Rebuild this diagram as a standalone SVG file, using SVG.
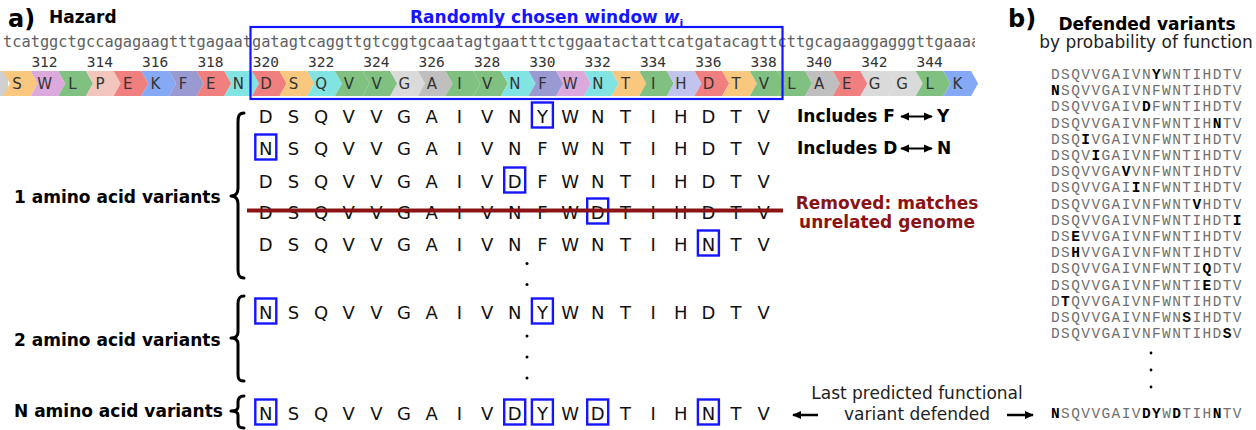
<svg xmlns="http://www.w3.org/2000/svg" xmlns:xlink="http://www.w3.org/1999/xlink" width="1256" height="430" viewBox="0 0 1256 430">
<style>
.b{font-family:"DejaVu Sans",Verdana,sans-serif;font-weight:bold;font-size:17px;fill:#000}
.r{font-family:"DejaVu Sans",Verdana,sans-serif;font-size:17px;fill:#222}
.dna{font-family:"DejaVu Sans Mono",monospace;font-size:15.3px;fill:#606060}
.num{font-family:"DejaVu Sans Mono",monospace;font-size:14.5px;fill:#333;text-anchor:middle}
.aa{font-family:"DejaVu Sans",sans-serif;font-size:15px;fill:#333;text-anchor:middle}
.row{font-family:"DejaVu Sans",sans-serif;font-size:18px;fill:#111;text-anchor:middle}
.box{fill:none;stroke:#1414ff;stroke-width:2.4}
.brace{fill:none;stroke:#000;stroke-width:3;stroke-linecap:round;stroke-linejoin:round}
.mono{font-family:"Liberation Mono","Courier New",monospace;font-size:14.5px;letter-spacing:1.4px;fill:#707070}
.mono tspan.k{font-weight:bold;fill:#000}
.dot{fill:#000}
.o{fill:#FAC77E}.w{fill:#DBA9DB}.g{fill:#80C080}.p{fill:#F2C5BD}.e{fill:#F07F7F}.kb{fill:#86A9F5}.f{fill:#9A9AD2}.c{fill:#82E3E3}.lg{fill:#DADADA}.a{fill:#BFBFBF}.h{fill:#C3C3F0}
</style>
<defs>
<path id="chev" d="M0,71 H27.66 L34.66,83.5 L27.66,96 H0 L7,83.5 Z"/>
<clipPath id="dclip"><rect x="0" y="30" width="975" height="24"/></clipPath>
<marker id="ah" viewBox="0 0 10 10" refX="9" refY="5" markerWidth="9" markerHeight="9" markerUnits="userSpaceOnUse" orient="auto-start-reverse"><path d="M0,0.5 L10,5 L0,9.5 Z" fill="#000"/></marker>
</defs>

<g id="titles">
<text x="8" y="27" class="b" style="font-size:24px">a)</text>
<text x="49" y="23" class="b">Hazard</text>
<text x="410" y="23" class="b" style="fill:#1414ff">Randomly chosen window <tspan font-style="italic">w</tspan><tspan font-size="11" dy="4">i</tspan></text>
<text x="1008" y="27" class="b" style="font-size:24px">b)</text>
<text x="1147" y="30" class="b" text-anchor="middle">Defended variants</text>
<text x="1146" y="48" class="r" text-anchor="middle">by probability of function</text>
</g>

<g id="hazard-sequence">
<text class="dna" x="3" y="47" textLength="977.3" lengthAdjust="spacing" clip-path="url(#dclip)">tcatggctgccagagaagtttgagaatgatagtcaggttgtcggtgcaatagtgaatttctggaatactattcatgatacagttcttgcagaaggagggttgaaaa</text>
<g id="numbers">
<text class="num" x="44.5" y="67">312</text><text class="num" x="99.8" y="67">314</text><text class="num" x="155.1" y="67">316</text><text class="num" x="210.5" y="67">318</text><text class="num" x="265.8" y="67">320</text><text class="num" x="321.1" y="67">322</text><text class="num" x="376.4" y="67">324</text><text class="num" x="431.7" y="67">326</text><text class="num" x="487.1" y="67">328</text><text class="num" x="542.4" y="67">330</text><text class="num" x="597.7" y="67">332</text><text class="num" x="653" y="67">334</text><text class="num" x="708.4" y="67">336</text><text class="num" x="763.7" y="67">338</text><text class="num" x="819" y="67">340</text><text class="num" x="874.3" y="67">342</text><text class="num" x="929.6" y="67">344</text>
</g>
<g id="aa-bar">
<rect x="0" y="71" width="8" height="25" fill="#D0D0D0"/>
<use href="#chev" x="3" class="o"/><use href="#chev" x="30.66" class="w"/><use href="#chev" x="58.32" class="g"/><use href="#chev" x="85.98" class="p"/><use href="#chev" x="113.64" class="e"/><use href="#chev" x="141.3" class="kb"/><use href="#chev" x="168.96" class="f"/><use href="#chev" x="196.62" class="e"/><use href="#chev" x="224.28" class="c"/><use href="#chev" x="251.94" class="e"/><use href="#chev" x="279.6" class="o"/><use href="#chev" x="307.26" class="c"/><use href="#chev" x="334.92" class="g"/><use href="#chev" x="362.58" class="g"/><use href="#chev" x="390.24" class="lg"/><use href="#chev" x="417.9" class="a"/><use href="#chev" x="445.56" class="g"/><use href="#chev" x="473.22" class="g"/><use href="#chev" x="500.88" class="c"/><use href="#chev" x="528.54" class="f"/><use href="#chev" x="556.2" class="w"/><use href="#chev" x="583.86" class="c"/><use href="#chev" x="611.52" class="o"/><use href="#chev" x="639.18" class="g"/><use href="#chev" x="666.84" class="h"/><use href="#chev" x="694.5" class="e"/><use href="#chev" x="722.16" class="o"/><use href="#chev" x="749.82" class="g"/><use href="#chev" x="777.48" class="g"/><use href="#chev" x="805.14" class="a"/><use href="#chev" x="832.8" class="e"/><use href="#chev" x="860.46" class="lg"/><use href="#chev" x="888.12" class="lg"/><use href="#chev" x="915.78" class="g"/><use href="#chev" x="943.44" class="kb"/>
<text class="aa" y="89" x="17 44.66 72.32 99.98 127.64 155.3 182.96 210.62 238.28 265.94 293.6 321.26 348.92 376.58 404.24 431.9 459.56 487.22 514.88 542.54 570.2 597.86 625.52 653.18 680.84 708.5 736.16 763.82 791.48 819.14 846.8 874.46 902.12 929.78 957.44">SWLPEKFENDSQVVGAIVNFWNTIHDTVLAEGGLK</text>
</g>
<rect id="window" x="250.5" y="27" width="532" height="72" class="box" style="stroke-width:2.2"/>
</g>

<g id="one-aa-variants">
<text class="b" x="14" y="203">1 amino acid variants</text>
<path class="brace" d="M244,113 C239,113 238,116 238,122 L238,188 C238,193 236,196 231,196 C236,196 238,199 238,204 L238,270 C238,275 239,278 244,278"/>
<text class="row" y="122.5" x="265.8 293.46 321.12 348.78 376.44 404.1 431.76 459.42 487.08 514.74 542.4 570.06 597.72 625.38 653.04 680.7 708.36 736.02 763.68">DSQVVGAIVNYWNTIHDTV</text>
<rect class="box" x="531.9" y="102.5" width="21" height="25"/>
<text class="row" y="154.5" x="265.8 293.46 321.12 348.78 376.44 404.1 431.76 459.42 487.08 514.74 542.4 570.06 597.72 625.38 653.04 680.7 708.36 736.02 763.68">NSQVVGAIVNFWNTIHDTV</text>
<rect class="box" x="255.3" y="134.5" width="21" height="25"/>
<text class="row" y="187.5" x="265.8 293.46 321.12 348.78 376.44 404.1 431.76 459.42 487.08 514.74 542.4 570.06 597.72 625.38 653.04 680.7 708.36 736.02 763.68">DSQVVGAIVDFWNTIHDTV</text>
<rect class="box" x="504.2" y="167.5" width="21" height="25"/>
<text class="row" y="218.5" x="265.8 293.46 321.12 348.78 376.44 404.1 431.76 459.42 487.08 514.74 542.4 570.06 597.72 625.38 653.04 680.7 708.36 736.02 763.68">DSQVVGAIVNFWDTIHDTV</text>
<rect class="box" x="587.2" y="198.5" width="21" height="25"/>
<line x1="247" y1="210.5" x2="783" y2="210.5" stroke="#8A1414" stroke-width="4"/>
<text class="row" y="250.5" x="265.8 293.46 321.12 348.78 376.44 404.1 431.76 459.42 487.08 514.74 542.4 570.06 597.72 625.38 653.04 680.7 708.36 736.02 763.68">DSQVVGAIVNFWNTIHNTV</text>
<rect class="box" x="697.9" y="230.5" width="21" height="25"/>
<circle class="dot" cx="527" cy="263.5" r="1.5"/><circle class="dot" cx="527" cy="284.5" r="1.5"/>
<text class="b" x="797" y="122">Includes F</text><text class="b" x="937" y="122">Y</text>
<text class="b" x="797" y="154">Includes D</text><text class="b" x="937" y="154">N</text>
<text class="b" x="887" y="209" text-anchor="middle" style="fill:#8A1414">Removed: matches</text>
<text class="b" x="887" y="228" text-anchor="middle" style="fill:#8A1414">unrelated genome</text>
</g>

<g id="two-aa-variants">
<text class="b" x="14" y="346">2 amino acid variants</text>
<path class="brace" d="M244,296 C239,296 238,299 238,304 L238,332 C238,336 236,338 231,338 C236,338 238,340 238,344 L238,374 C238,379 239,381 244,381"/>
<text class="row" y="318.5" x="265.8 293.46 321.12 348.78 376.44 404.1 431.76 459.42 487.08 514.74 542.4 570.06 597.72 625.38 653.04 680.7 708.36 736.02 763.68">NSQVVGAIVNYWNTIHDTV</text>
<rect class="box" x="255.3" y="298.5" width="21" height="25"/>
<rect class="box" x="531.9" y="298.5" width="21" height="25"/>
<circle class="dot" cx="527" cy="336" r="1.5"/><circle class="dot" cx="527" cy="357" r="1.5"/><circle class="dot" cx="527" cy="378" r="1.5"/>
</g>

<g id="n-aa-variants">
<text class="b" x="14" y="417">N amino acid variants</text>
<path class="brace" d="M244,396 C240,396 238,398 238,402 L238,407 C238,410 236,411 231,411 C236,411 238,412 238,415 L238,423 C238,427 240,428 244,428"/>
<text class="row" y="419.5" x="265.8 293.46 321.12 348.78 376.44 404.1 431.76 459.42 487.08 514.74 542.4 570.06 597.72 625.38 653.04 680.7 708.36 736.02 763.68">NSQVVGAIVDYWDTIHNTV</text>
<rect class="box" x="255.3" y="399.5" width="21" height="25"/>
<rect class="box" x="504.2" y="399.5" width="21" height="25"/>
<rect class="box" x="531.9" y="399.5" width="21" height="25"/>
<rect class="box" x="587.2" y="399.5" width="21" height="25"/>
<rect class="box" x="697.9" y="399.5" width="21" height="25"/>
<text class="r" x="917" y="399" text-anchor="middle">Last predicted functional</text>
<text class="r" x="917" y="420" text-anchor="middle">variant defended</text>
</g>

<g id="connectors" stroke="#000" stroke-width="2">
<line x1="901" y1="116.5" x2="932" y2="116.5" marker-start="url(#ah)" marker-end="url(#ah)"/>
<line x1="901" y1="148.5" x2="932" y2="148.5" marker-start="url(#ah)" marker-end="url(#ah)"/>
<line x1="818" y1="415" x2="793" y2="415" stroke-width="2.5" marker-end="url(#ah)"/>
<line x1="1007" y1="415" x2="1033" y2="415" stroke-width="2.5" marker-end="url(#ah)"/>
</g>

<g id="defended-list" class="mono">
<text x="1051" y="79">DSQVVGAIVN<tspan class="k">Y</tspan>WNTIHDTV</text>
<text x="1051" y="95.2"><tspan class="k">N</tspan>SQVVGAIVNFWNTIHDTV</text>
<text x="1051" y="111.4">DSQVVGAIV<tspan class="k">D</tspan>FWNTIHDTV</text>
<text x="1051" y="127.6">DSQVVGAIVNFWNTIH<tspan class="k">N</tspan>TV</text>
<text x="1051" y="143.8">DSQ<tspan class="k">I</tspan>VGAIVNFWNTIHDTV</text>
<text x="1051" y="160">DSQV<tspan class="k">I</tspan>GAIVNFWNTIHDTV</text>
<text x="1051" y="176.2">DSQVVGA<tspan class="k">V</tspan>VNFWNTIHDTV</text>
<text x="1051" y="192.4">DSQVVGAI<tspan class="k">I</tspan>NFWNTIHDTV</text>
<text x="1051" y="208.6">DSQVVGAIVNFWNT<tspan class="k">V</tspan>HDTV</text>
<text x="1051" y="224.8">DSQVVGAIVNFWNTIHDT<tspan class="k">I</tspan></text>
<text x="1051" y="241">DS<tspan class="k">E</tspan>VVGAIVNFWNTIHDTV</text>
<text x="1051" y="257.2">DS<tspan class="k">H</tspan>VVGAIVNFWNTIHDTV</text>
<text x="1051" y="273.4">DSQVVGAIVNFWNTI<tspan class="k">Q</tspan>DTV</text>
<text x="1051" y="289.6">DSQVVGAIVNFWNTI<tspan class="k">E</tspan>DTV</text>
<text x="1051" y="305.8">D<tspan class="k">T</tspan>QVVGAIVNFWNTIHDTV</text>
<text x="1051" y="322">DSQVVGAIVNFWN<tspan class="k">S</tspan>IHDTV</text>
<text x="1051" y="338.2">DSQVVGAIVNFWNTIHD<tspan class="k">S</tspan>V</text>
<circle class="dot" cx="1151" cy="353" r="1.4"/><circle class="dot" cx="1151" cy="370" r="1.4"/><circle class="dot" cx="1151" cy="387" r="1.4"/>
<text x="1051" y="418"><tspan class="k">N</tspan>SQVVGAIV<tspan class="k">DY</tspan>W<tspan class="k">D</tspan>TIH<tspan class="k">N</tspan>TV</text>
</g>
</svg>
